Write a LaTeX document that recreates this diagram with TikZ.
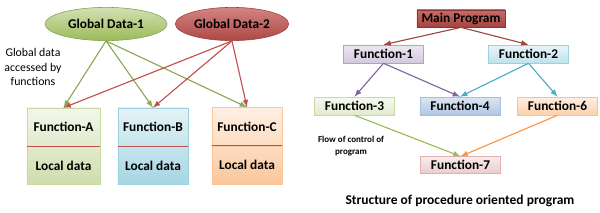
\documentclass[tikz,border=0pt]{standalone}
\usepackage{fontspec}
\setmainfont{Carlito}
\usepackage{tikz}
\usetikzlibrary{shapes.geometric,positioning,shadows}

\definecolor{gdgreen}{HTML}{9BBB59}
\definecolor{gdred}{HTML}{C0504D}
\definecolor{fpurple}{HTML}{8064A2}
\definecolor{fteal}{HTML}{4BACC6}
\definecolor{fblue}{HTML}{4F81BD}
\definecolor{forange}{HTML}{F79646}

\begin{document}
\begin{tikzpicture}[x=0.025cm,y=-0.025cm,>=latex,
  every node/.style={font=\fontsize{9.5}{11}\selectfont\bfseries},
  gdata/.style n args={3}{ellipse,draw=#1,top color=#2,bottom color=#3,
    minimum height=0.83cm,inner sep=0pt},
  fbox/.style n args={3}{rectangle,draw=#1,top color=#2,bottom color=#3,
    inner sep=1pt,drop shadow={opacity=0.2,shadow xshift=0.6pt,shadow yshift=-0.6pt}},
  part/.style={minimum height=0.95cm},
  call/.style={->,line width=0.8pt}]
\useasboundingbox (0,0) rectangle (600,212);
% global data
\node[gdata={gdgreen!85!black}{gdgreen!45!white}{gdgreen},minimum width=3.05cm] (gd1) at (106,24) {Global Data-1};
\node[gdata={gdred!80!black}{gdred!70!white}{gdred!90!black},minimum width=2.83cm] (gd2) at (232,24) {Global Data-2};
\node[font=\fontsize{8.4}{10}\selectfont,align=center] (gtext) at (33,67) {Global data\\accessed by\\functions};
% functions with local data
\node[fbox={gdgreen!55!white}{gdgreen!12!white}{gdgreen!30!white},part,minimum width=1.83cm] (fa) at (63.5,127) {Function-A};
\node[fbox={gdgreen!55!white}{gdgreen!30!white}{gdgreen!50!white},part,minimum width=1.83cm,below=0pt of fa] (la) {Local data};
\node[fbox={fteal!55!white}{fteal!15!white}{fteal!32!white},part,minimum width=1.75cm] (fb) at (153,127) {Function-B};
\node[fbox={fteal!55!white}{fteal!32!white}{fteal!50!white},part,minimum width=1.75cm,below=0pt of fb] (lb) {Local data};
\node[fbox={forange!55!white}{forange!15!white}{forange!32!white},part,minimum width=1.75cm] (fc) at (247,126.5) {Function-C};
\node[fbox={forange!55!white}{forange!32!white}{forange!55!white},part,minimum width=1.75cm,below=0pt of fc] (lc) {Local data};
\foreach \f in {fa,fb,fc}
  \draw[gdred,line width=0.8pt] (\f.south west) -- (\f.south east);
\foreach \f in {fa,fb,fc}
  \draw[call,gdgreen!90!black] (gd1.south) -- (\f.north);
\foreach \f in {fa,fb,fc}
  \draw[call,gdred] (gd2.south) -- (\f.north);
% procedure oriented program
\node[fbox={gdred!70!black}{gdred!85!white}{gdred!85!black},minimum width=2.2cm,minimum height=0.43cm] (main) at (461,18.5) {Main Program};
\node[fbox={fpurple!60!white}{fpurple!15!white}{fpurple!35!white},minimum width=2cm,minimum height=0.45cm] (f1) at (383.5,54) {Function-1};
\node[fbox={fteal!55!white}{fteal!12!white}{fteal!35!white},minimum width=2cm,minimum height=0.45cm] (f2) at (528.5,54) {Function-2};
\node[fbox={gdgreen!55!white}{gdgreen!8!white}{gdgreen!30!white},minimum width=2cm,minimum height=0.45cm] (f3) at (354.5,106) {Function-3};
\node[fbox={fblue!50!white}{fblue!20!white}{fblue!45!white},minimum width=2cm,minimum height=0.45cm] (f4) at (460,106) {Function-4};
\node[fbox={forange!60!white}{forange!15!white}{forange!45!white},minimum width=2cm,minimum height=0.45cm] (f6) at (557.5,106) {Function-6};
\node[fbox={gdred!45!white}{gdred!10!white}{gdred!30!white},minimum width=2cm,minimum height=0.42cm] (f7) at (460.5,165) {Function-7};
\node[font=\fontsize{6.4}{8.2}\selectfont\bfseries,align=center] (flow) at (351,146) {Flow of control of\\program};
\node[font=\fontsize{9.6}{11}\selectfont\bfseries] (title) at (460,201) {Structure of procedure oriented program};
\draw[call,gdred!85!black] (main.south) -- (f1.north);
\draw[call,gdred!85!black] (main.south) -- (f2.north);
\draw[call,fpurple] (f1.south) -- (f3.north);
\draw[call,fpurple] (f1.south) -- (f4.north);
\draw[call,fteal] (f2.south) -- (f4.north);
\draw[call,fteal] (f2.south) -- (f6.north);
\draw[call,gdgreen] (f3.south) -- (f7.north);
\draw[call,forange] (f6.south) -- (f7.north);
\end{tikzpicture}
\end{document}
